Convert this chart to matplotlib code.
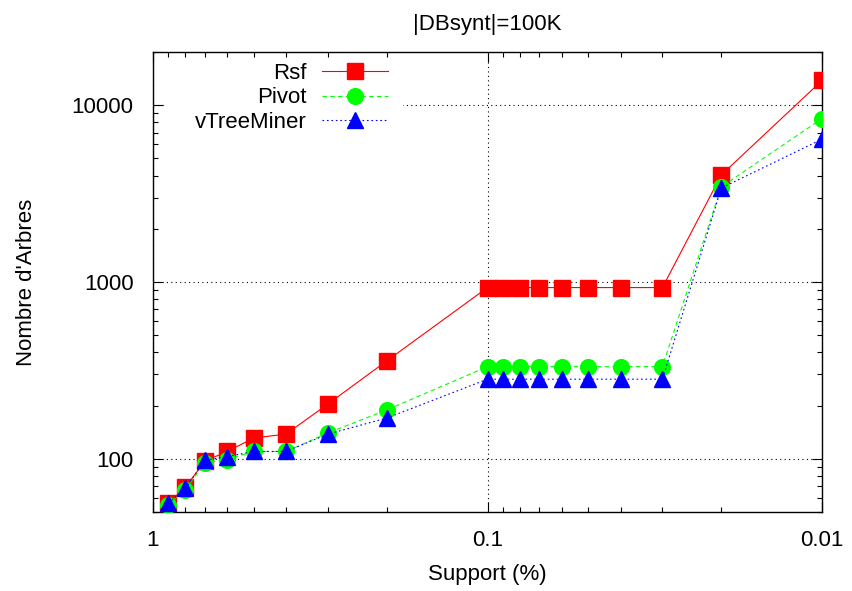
import matplotlib
matplotlib.use("Agg")
import matplotlib.pyplot as plt
from matplotlib.patches import Rectangle
from matplotlib.ticker import LogLocator, FixedLocator, FixedFormatter, NullFormatter

plt.rcParams['font.family'] = ['Liberation Sans', 'DejaVu Sans']
plt.rcParams['font.size'] = 16

support = [0.9, 0.8, 0.7, 0.6, 0.5, 0.4, 0.3, 0.2, 0.1, 0.09, 0.08, 0.07,
           0.06, 0.05, 0.04, 0.03, 0.02, 0.01]
rsf = [56, 69, 97, 110, 131, 138, 204, 358, 930, 930, 930, 930,
       930, 930, 930, 930, 4030, 13800]
pivot = [55, 67, 95, 99, 110, 110, 140, 189, 332, 332, 332, 332,
         332, 332, 332, 332, 3450, 8400]
vtreeminer = [56, 68, 98, 103, 110, 110, 138, 170, 282, 282, 282, 282,
              282, 282, 282, 282, 3400, 6430]

x_ticks = [1, 0.1, 0.01]
x_tick_labels = ["1", "0.1", "0.01"]
y_ticks = [100, 1000, 10000]
y_tick_labels = ["100", "1000", "10000"]

fig = plt.figure(figsize=(8.52, 5.91), dpi=100)
ax = fig.add_axes([153 / 852, 1 - 512 / 591, (822 - 153) / 852, (512 - 52) / 591])

ax.set_xscale('log')
ax.set_yscale('log')
ax.set_xlim(1, 0.01)
ax.set_ylim(50, 20000)

ax.plot(support, rsf, color='#ff0000', lw=0.8, ls='-', marker='s', ms=11.3,
        mec='#ff0000', label='Rsf', zorder=3)
ax.plot(support, pivot, color='#00ff00', lw=0.8, ls=(0, (4, 3)), marker='o', ms=11.3,
        mfc='#00ff00', mec='#00ff00', label='Pivot', zorder=4)
ax.plot(support, vtreeminer, color='#0000ff', lw=0.8, ls=(0, (1.5, 2.5)), marker='^', ms=11.3,
        mec='#0000ff', label='vTreeMiner', zorder=5)

ax.xaxis.set_major_locator(FixedLocator(x_ticks))
ax.xaxis.set_major_formatter(FixedFormatter(x_tick_labels))
ax.xaxis.set_minor_locator(LogLocator(base=10, subs=range(2, 10)))
ax.xaxis.set_minor_formatter(NullFormatter())
ax.yaxis.set_major_locator(FixedLocator(y_ticks))
ax.yaxis.set_major_formatter(FixedFormatter(y_tick_labels))
ax.yaxis.set_minor_locator(LogLocator(base=10, subs=range(2, 10)))
ax.yaxis.set_minor_formatter(NullFormatter())

ax.tick_params(which='both', direction='in', top=True, right=True, width=0.8)
ax.tick_params(axis='x', which='major', length=7, pad=13, labelsize=16)
ax.tick_params(axis='y', which='major', length=7, pad=14, labelsize=16)
ax.tick_params(which='minor', length=3.6)

ax.grid(True, which='major', color='black', ls=(0, (1, 3)), lw=0.8)
ax.set_axisbelow(True)
for s in ax.spines.values():
    s.set_linewidth(1.0)

ax.set_title('|DBsynt|=100K', fontsize=16, pad=16)
ax.set_xlabel('Support (%)', fontsize=16, labelpad=9)
ax.set_ylabel("Nombre d'Arbres", fontsize=16, labelpad=25)

# white backdrop behind the key so the grid does not run through it
ax.add_patch(Rectangle((0.02, 0.83), 0.354, 0.155, transform=ax.transAxes,
                       facecolor='white', edgecolor='none', zorder=1))

leg = ax.legend(loc='upper right', bbox_to_anchor=((399 - 153) / 669, 1.0),
                markerfirst=False, frameon=False, handlelength=2.95,
                handletextpad=0.7, labelspacing=0.15, fontsize=16,
                borderpad=0.3, borderaxespad=0.2)
for t in leg.get_texts():
    t.set_ha('right')
leg._legend_box.align = 'right'

fig.savefig('out.png', dpi=100, facecolor='white')
